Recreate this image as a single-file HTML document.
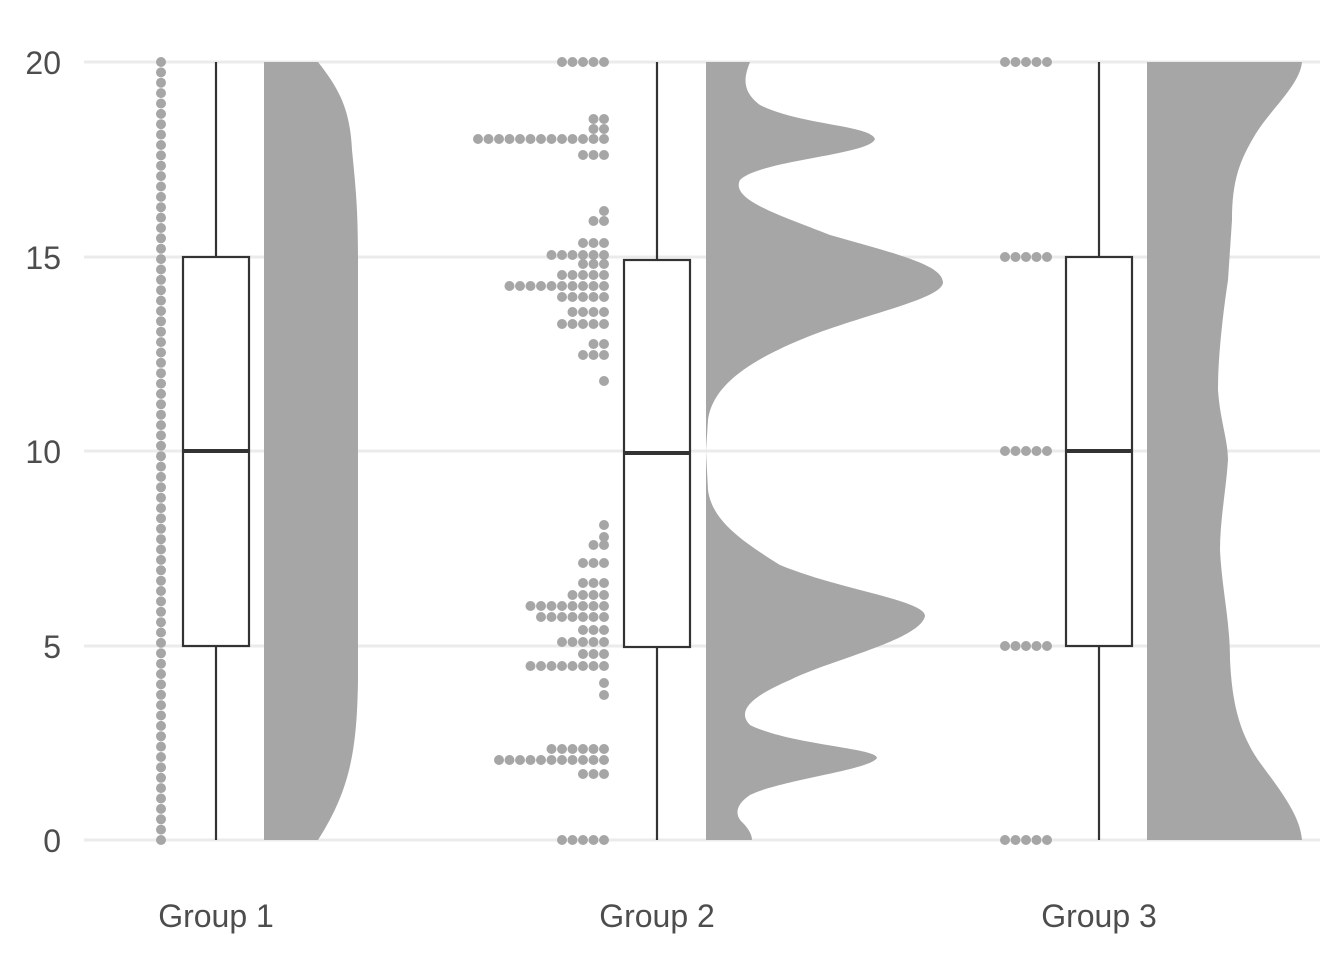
<!DOCTYPE html>
<html><head><meta charset="utf-8"><style>
html,body{margin:0;padding:0;background:#fff;}
svg text{font-family:"Liberation Sans",sans-serif;fill:#4d4d4d;}
</style></head><body>
<svg id="s" width="1344" height="960" xmlns="http://www.w3.org/2000/svg">
<g stroke="#ebebeb" stroke-width="3">
<line x1="84" x2="1320" y1="62" y2="62"/><line x1="84" x2="1320" y1="257" y2="257"/>
<line x1="84" x2="1320" y1="451" y2="451"/><line x1="84" x2="1320" y1="646" y2="646"/>
<line x1="84" x2="1320" y1="840" y2="840"/>
</g>
<g font-size="32" text-anchor="end">
<text x="61" y="74">20</text><text x="61" y="269">15</text><text x="61" y="463">10</text><text x="61" y="658">5</text><text x="61" y="852">0</text>
</g>
<g font-size="32" text-anchor="middle">
<text x="216" y="927">Group 1</text>
<text x="657" y="927">Group 2</text>
<text x="1099" y="927">Group 3</text>
</g>
<g fill="#a6a6a6">
<path d="M264,62 L318,62 C340,90 350,110 352,150 C356,190 358,210 358,260 L358,680 C357,750 350,790 318,840 L264,840Z"/>
<path d="M706,62 L750,62 C745,75 740,90 760,105 C800,125 870,125 875,139 C870,155 760,160 740,180 C730,200 780,215 830,235 C900,255 943,265 943,283 C940,300 860,315 800,340 C740,365 712,390 708,420 L706,451 L708,490 C712,520 740,540 780,565 C840,590 925,600 925,616 C920,640 830,660 790,680 C755,695 735,710 750,725 C790,745 877,748 877,758 C870,770 780,780 750,795 C735,805 735,815 742,822 C750,830 752,836 752,840 L706,840Z"/>
<path d="M1147,62 L1302,62 C1300,85 1270,110 1255,135 C1240,160 1232,180 1232,220 L1228,280 C1222,320 1218,360 1218,390 C1220,420 1228,440 1228,460 C1226,490 1220,520 1220,550 C1222,590 1230,620 1230,660 C1232,700 1238,730 1258,760 C1280,790 1300,815 1302,840 L1147,840Z"/>
</g>
<g id="dots" fill="#a6a6a6"></g>
<g stroke="#333" stroke-width="2.2" fill="#fff">
<line x1="216" x2="216" y1="62" y2="840"/><rect x="183" y="257" width="66" height="389"/><line x1="183" x2="249" y1="451" y2="451" stroke-width="4"/>
<line x1="657" x2="657" y1="62" y2="840"/><rect x="624" y="260" width="66" height="387"/><line x1="624" x2="690" y1="453" y2="453" stroke-width="4"/>
<line x1="1099" x2="1099" y1="62" y2="840"/><rect x="1066" y="257" width="66" height="389"/><line x1="1066" x2="1132" y1="451" y2="451" stroke-width="4"/>
</g>
</svg>
<script>
var g=document.getElementById('dots'),h='';
function c(x,y){h+='<circle cx="'+x.toFixed(1)+'" cy="'+y.toFixed(1)+'" r="5"/>';}
for(var i=0;i<=75;i++)c(161,62+i*778/75);
var rows=[[62,5],[119,2],[129,2],[139,13],[155,3],[211,1],[221,2],[243,3],[255,6],[264,3],[275,5],[286,10],[297,5],[312,4],[324,5],[344,2],[355,3],[381,1],[525,1],[537,1],[545,2],[563,3],[583,3],[595,4],[606,8],[617,7],[630,3],[642,5],[654,3],[666,8],[683,1],[695,1],[749,6],[760,11],[774,3],[840,5]];
rows.forEach(function(r){for(var k=0;k<r[1];k++)c(604-k*10.5,r[0]);});
[62,257,451,646,840].forEach(function(y){for(var k=0;k<5;k++)c(1005+k*10.5,y);});
g.innerHTML=h;
</script>
</body></html>
